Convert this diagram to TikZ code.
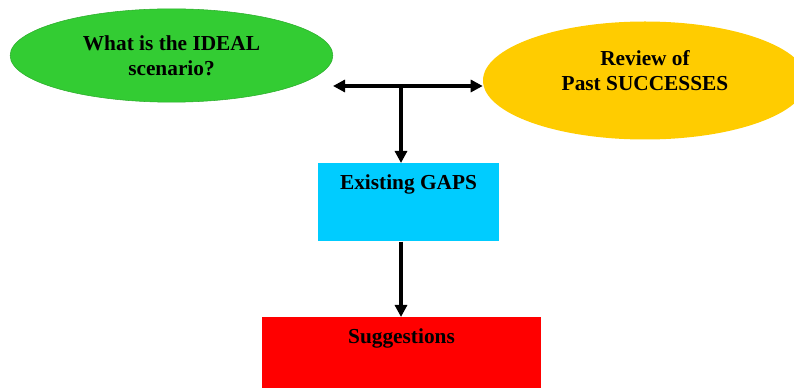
\documentclass[tikz,border=0pt]{standalone}
\usepackage{fontspec}
\setmainfont{Liberation Serif}
\usepackage{tikz}
\usetikzlibrary{shapes.geometric,arrows.meta}

\definecolor{idealgreen}{RGB}{51,204,51}
\definecolor{pastyellow}{RGB}{255,204,0}
\definecolor{gapcyan}{RGB}{0,204,255}
\definecolor{suggred}{RGB}{255,0,0}

\begin{document}
\begin{tikzpicture}[x=0.75pt,y=-0.75pt,
    every node/.style={font=\bfseries\fontsize{16}{19}\selectfont},
    bubble/.style={ellipse,inner sep=0pt,align=center},
    topbox/.style={rectangle,anchor=north,inner xsep=0pt,inner ysep=0pt,
      text height=19.5pt,text depth=39pt},
    flow/.style={line width=2.4pt,-{Triangle[length=9pt,width=9pt]}}]
  \useasboundingbox (0,0) rectangle (794,388);

  \node[bubble,fill=idealgreen,draw=idealgreen!85!black,
    minimum width=242pt,minimum height=70pt] (ideal) at (171.5,55.5)
    {What is the IDEAL\\scenario?};
  \node[bubble,fill=pastyellow,minimum width=243pt,minimum height=88.5pt,
    label={[align=center,yshift=7.5pt]center:Review of\\Past SUCCESSES}]
    (review) at (645,80.5) {};

  \node[topbox,fill=gapcyan,minimum width=135.75pt] (gaps) at (408.5,163)
    {Existing GAPS};
  \node[topbox,fill=suggred,minimum width=209.25pt] (sugg) at (401.5,317)
    {Suggestions};

  % junction of the three arrows
  \coordinate (jn) at (401,86);
  \coordinate (lft) at (333,86);
  \draw[flow] (jn) -- (lft);
  \draw[flow] (jn) -- (review.west |- jn);
  \draw[flow] (jn) -- (jn |- gaps.north);
  \draw[flow] (jn |- gaps.south) -- (jn |- sugg.north);
\end{tikzpicture}
\end{document}
